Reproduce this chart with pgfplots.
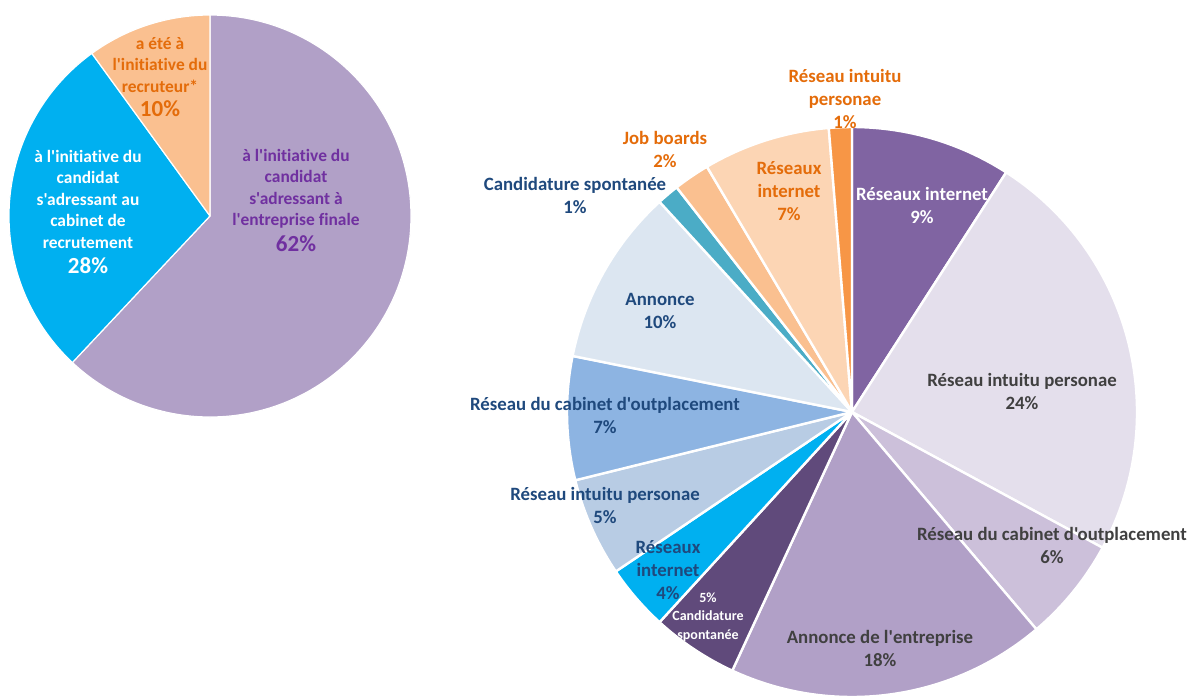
\documentclass[border=0pt]{standalone}
\usepackage{pgfplots}
\pgfplotsset{compat=1.18}
\usepackage{fontspec}
\setmainfont{Carlito}[Ligatures={TeXOff,CommonOff}]
\definecolor{cPurple}{HTML}{B1A0C7}
\definecolor{cBlue}{HTML}{00B0F0}
\definecolor{cPeach}{HTML}{FAC090}
\definecolor{cDarkPurple}{HTML}{8064A2}
\definecolor{cLavender}{HTML}{E4DFEC}
\definecolor{cLilac}{HTML}{CCC0DA}
\definecolor{cPlum}{HTML}{604A7B}
\definecolor{cSky}{HTML}{B8CCE4}
\definecolor{cMidBlue}{HTML}{8DB4E2}
\definecolor{cPaleBlue}{HTML}{DCE6F1}
\definecolor{cTeal}{HTML}{4BACC6}
\definecolor{cLightPeach}{HTML}{FCD5B4}
\definecolor{cOrange}{HTML}{F79646}
\definecolor{tOrange}{HTML}{E46C0A}
\definecolor{tViolet}{HTML}{7030A0}
\definecolor{tNavy}{HTML}{1F497D}
\definecolor{tGray}{HTML}{404040}
% #1 cx, #2 cy (px), #3 radius (px), #4 cumulative start (%), #5 value (%), #6 colour, #7 border width
\newcommand{\pieslice}[7]{%
  \fill[#6, draw=white, line width=#7, line join=round]
    (axis cs:#1,#2) -- ++({90-3.6*(#4)}:{#3*0.5pt})
    arc[start angle={90-3.6*(#4)}, delta angle={-3.6*(#5)}, radius={#3*0.5pt}] -- cycle;}
\begin{document}
\begin{tikzpicture}
\begin{axis}[
  x=0.5pt, y=0.5pt, xmin=0, xmax=1190, ymin=0, ymax=698, y dir=reverse,
  hide axis, clip=false, scale only axis]
\coordinate (sw) at (axis cs:0,698);
\coordinate (ne) at (axis cs:1190,0);
% ---- left pie: 62 / 28 / 10
\pieslice{210}{216}{201}{0}{62}{cPurple}{0.6pt}
\pieslice{210}{216}{201}{62}{28}{cBlue}{0.6pt}
\pieslice{210}{216}{201}{90}{10}{cPeach}{0.6pt}
% ---- right pie
\pieslice{852}{412}{285}{0}{9.1}{cDarkPurple}{1.2pt}
\pieslice{852}{412}{285}{9.1}{23.8}{cLavender}{1.2pt}
\pieslice{852}{412}{285}{32.9}{5.9}{cLilac}{1.2pt}
\pieslice{852}{412}{285}{38.8}{18.1}{cPurple}{1.2pt}
\pieslice{852}{412}{285}{56.9}{4.9}{cPlum}{1.2pt}
\pieslice{852}{412}{285}{61.8}{3.75}{cBlue}{1.2pt}
\pieslice{852}{412}{285}{65.55}{5.6}{cSky}{1.2pt}
\pieslice{852}{412}{285}{71.15}{7.0}{cMidBlue}{1.2pt}
\pieslice{852}{412}{285}{78.15}{10.05}{cPaleBlue}{1.2pt}
\pieslice{852}{412}{285}{88.2}{1.25}{cTeal}{1.2pt}
\pieslice{852}{412}{285}{89.45}{2.05}{cPeach}{1.2pt}
\pieslice{852}{412}{285}{91.5}{7.2}{cLightPeach}{1.2pt}
\pieslice{852}{412}{285}{98.7}{1.3}{cOrange}{1.2pt}
% ---- left labels
\tikzset{lab/.style={align=center, inner sep=0pt, font=\fontsize{8.7}{10.75}\selectfont\bfseries}}
\newcommand{\bigpct}[1]{{\fontsize{11.5}{10.75}\selectfont #1}}
\node[lab, text=tOrange] at (axis cs:160,77) {a été à\\l'initiative du\\recruteur*\\[1.5pt]\bigpct{10\%}};
\node[lab, text=white] at (axis cs:88,212) {à l'initiative du\\candidat\\s'adressant au\\cabinet de\\recrutement\\[2pt]\bigpct{28\%}};
\node[lab, text=tViolet] at (axis cs:296,200) {à l'initiative du\\candidat\\s'adressant à\\l'entreprise finale\\[2pt]\bigpct{62\%}};
% ---- right labels
\tikzset{rlab/.style={align=center, inner sep=0pt, font=\fontsize{9.4}{11.5}\selectfont\bfseries}}
\node[rlab, text=tOrange] at (axis cs:845,99) {Réseau intuitu\\personae\\1\%};
\node[rlab, text=tOrange] at (axis cs:665,149) {Job boards\\2\%};
\node[rlab, text=tNavy] at (axis cs:575,195) {Candidature spontanée\\1\%};
\node[rlab, text=tOrange] at (axis cs:789,191) {Réseaux\\internet\\7\%};
\node[rlab, text=white] at (axis cs:922,205) {Réseaux internet\\9\%};
\node[rlab, text=tGray] at (axis cs:1022,391) {Réseau intuitu personae\\24\%};
\node[rlab, text=tGray] at (axis cs:1052,545) {Réseau du cabinet d'outplacement\\6\%};
\node[rlab, text=tGray] at (axis cs:880,648) {Annonce de l'entreprise\\18\%};
\node[align=center, inner sep=0pt, text=white, font=\fontsize{7}{9.2}\selectfont\bfseries] at (axis cs:708,617) {5\%\\Candidature\\spontanée};
\node[rlab, text=tNavy] at (axis cs:668,570) {Réseaux\\internet\\4\%};
\node[rlab, text=tNavy] at (axis cs:605,505) {Réseau intuitu personae\\5\%};
\node[rlab, text=tNavy] at (axis cs:605,415) {Réseau du cabinet d'outplacement\\7\%};
\node[rlab, text=tNavy] at (axis cs:660,311) {Annonce\\10\%};
\end{axis}
\pgfresetboundingbox
\useasboundingbox (sw) rectangle (ne);
\end{tikzpicture}
\end{document}
